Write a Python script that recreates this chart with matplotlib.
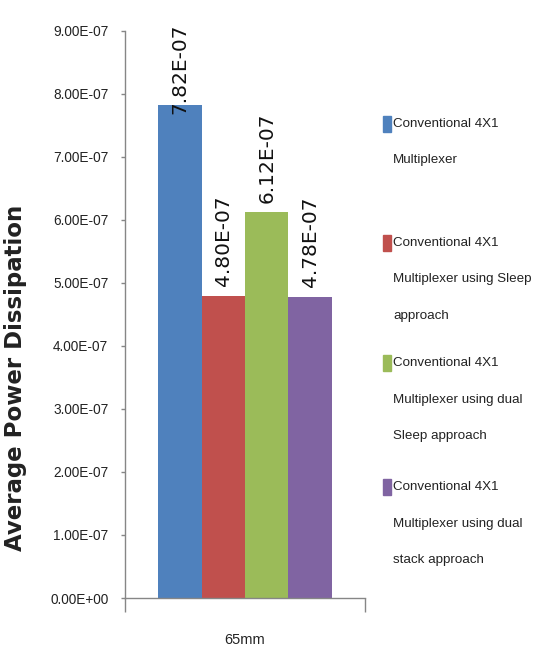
import matplotlib
matplotlib.use("Agg")
import matplotlib.pyplot as plt
from matplotlib.patches import Rectangle

# data
series_names = [
    "Conventional 4X1\nMultiplexer",
    "Conventional 4X1\nMultiplexer using Sleep\napproach",
    "Conventional 4X1\nMultiplexer using dual\nSleep approach",
    "Conventional 4X1\nMultiplexer using dual\nstack approach",
]
power = [7.82e-07, 4.80e-07, 6.12e-07, 4.78e-07]
value_labels = ["7.82E-07", "4.80E-07", "6.12E-07", "4.78E-07"]
category = "65mm"
yticks = [0, 1e-07, 2e-07, 3e-07, 4e-07, 5e-07, 6e-07, 7e-07, 8e-07, 9e-07]
ytick_labels = ["0.00E+00", "1.00E-07", "2.00E-07", "3.00E-07", "4.00E-07",
                "5.00E-07", "6.00E-07", "7.00E-07", "8.00E-07", "9.00E-07"]

colors = ["#4F81BD", "#C0504D", "#9BBB59", "#8064A2"]
narrow = ["Liberation Sans", "DejaVu Sans"]

W, H = 533, 657
fig = plt.figure(figsize=(W / 100, H / 100), dpi=100)
ax = fig.add_axes([125 / W, 1 - 598 / H, 240 / W, 567 / H])

bw = 0.181
for i, (v, c) in enumerate(zip(power, colors)):
    x = (i - 1.5) * bw
    ax.bar(x, v, width=bw, color=c, edgecolor="none")
    off = -6.5 if v > 7.5e-07 else 7
    ax.annotate(value_labels[i], (x, v), xytext=(0, off), textcoords="offset points",
                rotation=90, ha="center", va="bottom", fontsize=14.5,
                family="DejaVu Sans", color="#111111", annotation_clip=False)

ax.set_xlim(-0.5, 0.5)
ax.set_ylim(0, 9e-07)
ax.set_yticks(yticks)
ax.set_yticklabels(ytick_labels, family=narrow, fontsize=9.8, color="#222222")
ax.set_xticks([-0.5, 0.5])
ax.set_xticklabels([])
ax.tick_params(axis="y", length=3, width=1, color="#868686", pad=9)
ax.tick_params(axis="x", length=10, width=1, color="#868686")
for s in ["top", "right"]:
    ax.spines[s].set_visible(False)
for s in ["left", "bottom"]:
    ax.spines[s].set_color("#868686")
    ax.spines[s].set_linewidth(1)

fig.text(245 / W, 1 - 640 / H, category, ha="center", va="center",
         family=narrow, fontsize=10.5, color="#222222")
fig.text(16 / W, 1 - 378 / H, "Average Power Dissipation", rotation=90,
         ha="center", va="center", fontsize=16.5, fontweight="bold",
         family="DejaVu Sans", color="#222222")

# legend drawn by hand, Excel style
entry_top = [124, 243, 363, 487]
line_gap = 36.5
for name, c, y0 in zip(series_names, colors, entry_top):
    fig.patches.append(Rectangle((383 / W, 1 - (y0 + 8) / H), 8 / W, 16 / H,
                                 transform=fig.transFigure, color=c))
    for k, line in enumerate(name.split("\n")):
        fig.text(393 / W, 1 - (y0 + k * line_gap) / H, line, ha="left", va="center",
                 family=narrow, fontsize=9.6, color="#222222")

fig.savefig("out.png", dpi=100)
